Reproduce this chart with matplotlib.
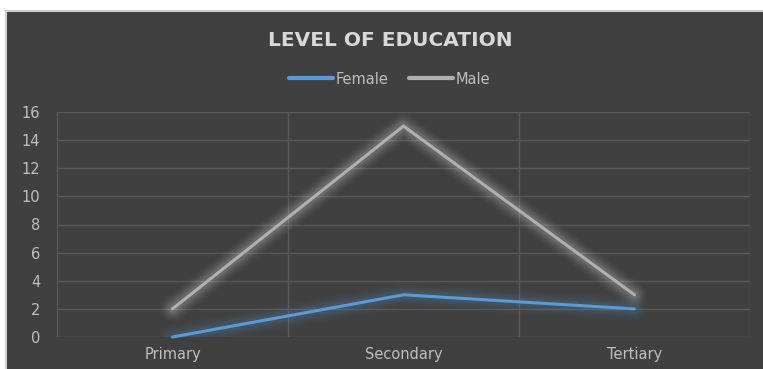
import matplotlib
matplotlib.use("Agg")
import matplotlib.pyplot as plt
from matplotlib.patches import Rectangle

categories = ["Primary", "Secondary", "Tertiary"]
female = [0, 3, 2]
male = [2, 15, 3]
y_ticks = [0, 2, 4, 6, 8, 10, 12, 14, 16]

BG = "#404040"
GRID = "#595959"
TXT = "#bfbfbf"
FEMALE_C = "#5b9bd5"
MALE_C = "#b0b0b0"
FONT = "DejaVu Sans"

W, H = 763, 369
fig = plt.figure(figsize=(W / 100, H / 100), dpi=100, facecolor="white")

# dark chart area with a thin light frame (frame runs off the right and bottom edges)
fig.patches.append(Rectangle((5.5 / W, -0.05), 1.1, 1 - 10.5 / H + 0.05, transform=fig.transFigure,
                             facecolor=BG, edgecolor="#d0d0d0", linewidth=1.5, zorder=-10))

ax = fig.add_axes([57 / W, 1 - 337 / H, (750 - 57) / W, (337 - 112) / H])
ax.patch.set_alpha(0)
x = list(range(len(categories)))
ax.set_xlim(-0.5, len(categories) - 0.5)
ax.set_ylim(0, 16)

for s in ax.spines.values():
    s.set_visible(False)

for yv in y_ticks:
    ax.axhline(yv, color=GRID, linewidth=1.0, zorder=1)
for xv in [-0.5, 0.5, 1.5, 2.5]:
    ax.axvline(xv, color=GRID, linewidth=1.0, zorder=1)


def glow_line(xs, ys, color, glow_color, zorder):
    # soft halo built from stacked translucent strokes
    for lw, a in [(18, 0.025), (15, 0.035), (12, 0.05), (9, 0.06), (6, 0.08)]:
        ax.plot(xs, ys, color=glow_color, linewidth=lw, alpha=a,
                solid_capstyle="round", solid_joinstyle="round", zorder=zorder)
    line, = ax.plot(xs, ys, color=color, linewidth=2.2, solid_capstyle="round",
                    solid_joinstyle="miter", zorder=zorder + 1)
    return line


l_f = glow_line(x, female, FEMALE_C, "#5b9bd5", 3)
l_m = glow_line(x, male, MALE_C, "#ffffff", 5)
for line in (l_f, l_m):
    line.set_clip_on(False)

ax.set_xticks(x)
ax.set_xticklabels(categories, fontfamily=FONT, fontsize=10.5, color=TXT)
ax.set_yticks(y_ticks)
ax.set_yticklabels([str(v) for v in y_ticks], fontfamily=FONT, fontsize=10.5, color=TXT)
ax.tick_params(axis="x", length=0, pad=7)
ax.tick_params(axis="y", length=0, pad=12)

fig.text(390 / W, 1 - 40 / H, "LEVEL OF EDUCATION", ha="center", va="center",
         fontfamily=FONT, fontsize=14.5, fontweight="bold", color="#d9d9d9")

leg = fig.legend([l_f, l_m], ["Female", "Male"], loc="center",
                 bbox_to_anchor=(390 / W, 1 - 79 / H), ncol=2, frameon=False,
                 prop={"family": FONT, "size": 10.5}, handlelength=3.0, handletextpad=0.2,
                 columnspacing=1.4)
for t in leg.get_texts():
    t.set_color(TXT)
for h in leg.legend_handles:
    h.set_linewidth(3)

fig.savefig("out.png", dpi=100, facecolor="white")
